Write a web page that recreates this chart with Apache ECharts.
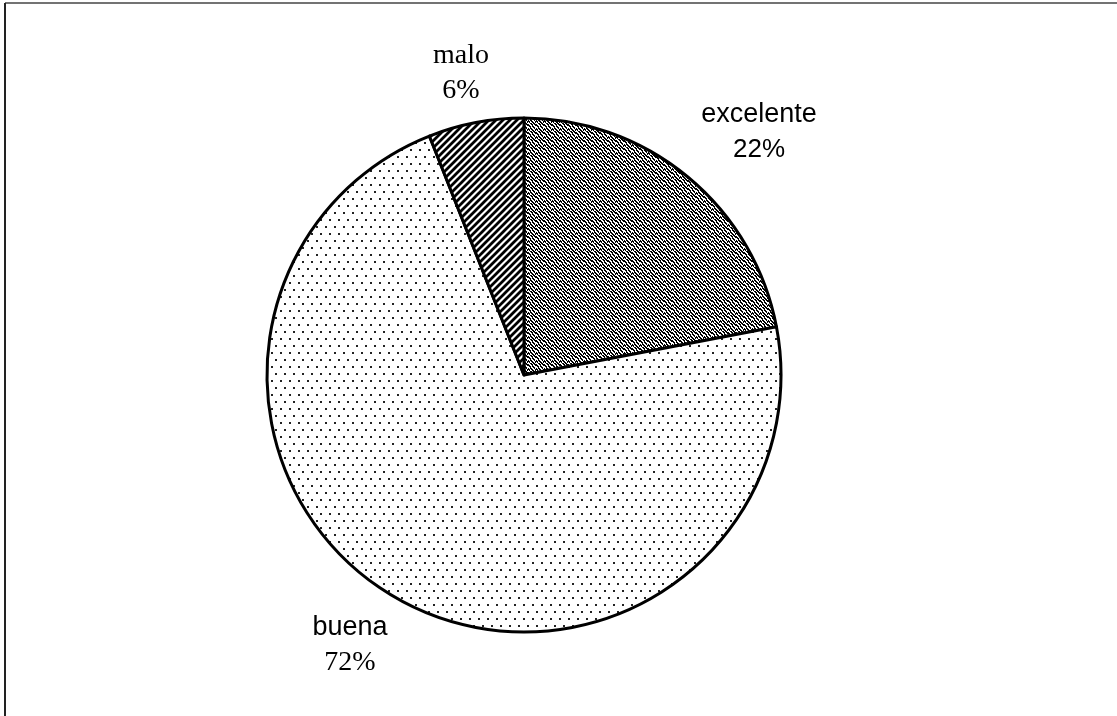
<!DOCTYPE html>
<html>
<head>
<meta charset="utf-8">
<script src="https://cdn.jsdelivr.net/npm/echarts@6/dist/echarts.min.js"></script>
<style>
html,body{margin:0;padding:0;background:#fff;}
#chart{width:1117px;height:716px;}
</style>
</head>
<body>
<div id="chart"></div>
<script>
// ---- data ----
const categories = ['excelente', 'buena', 'malo'];
const values = [22, 72, 6];
const percentLabels = ['22%', '72%', '6%'];

// ---- layout / style (kept apart from the data) ----
const labelPos = [[759, 132], [350, 645], [461, 73]];
const nameFont = ['Liberation Sans', 'Liberation Sans', 'Liberation Serif'];
const pctFont = ['Liberation Sans', 'Liberation Serif', 'Liberation Serif'];
const nameSize = [27, 27, 28];
const pctSize = [26, 28, 28];

function bitmapTile(rows) {
  const h = rows.length, w = rows[0].length;
  const c = document.createElement('canvas');
  c.width = w; c.height = h;
  const ctx = c.getContext('2d');
  ctx.fillStyle = '#fff'; ctx.fillRect(0, 0, w, h);
  ctx.fillStyle = '#000';
  for (let y = 0; y < h; y++) for (let x = 0; x < w; x++) if (rows[y][x] === '1') ctx.fillRect(x, y, 1, 1);
  return c;
}
function dotTile() {
  const c = document.createElement('canvas');
  c.width = 9; c.height = 14;
  const ctx = c.getContext('2d');
  ctx.fillStyle = '#fff'; ctx.fillRect(0, 0, 9, 14);
  ctx.fillStyle = '#222';
  ctx.fillRect(1, 2, 2, 2);
  ctx.fillRect(5, 9, 2, 2);
  return c;
}
function stripeTile() {
  const s = 7;
  const c = document.createElement('canvas');
  c.width = s; c.height = s;
  const ctx = c.getContext('2d');
  ctx.fillStyle = '#fff'; ctx.fillRect(0, 0, s, s);
  ctx.strokeStyle = '#000'; ctx.lineWidth = 2.8;
  ctx.beginPath();
  ctx.moveTo(-1, s + 1); ctx.lineTo(s + 1, -1);
  ctx.moveTo(-1, 1); ctx.lineTo(1, -1);
  ctx.moveTo(s - 1, s + 1); ctx.lineTo(s + 1, s - 1);
  ctx.stroke();
  return c;
}
const wormTile = bitmapTile([
  '10110010',
  '11011001',
  '01001101',
  '00110110',
  '10011011',
  '11001001',
  '01101100',
  '00100110'
]);
const fills = [
  { image: wormTile, repeat: 'repeat' },
  { image: dotTile(), repeat: 'repeat' },
  { image: stripeTile(), repeat: 'repeat' }
];

const seriesData = categories.map((name, i) => ({
  name: name,
  value: values[i],
  itemStyle: { color: fills[i] },
  label: {
    formatter: '{n|' + name + '}\n{p|' + percentLabels[i] + '}',
    rich: {
      n: { fontFamily: nameFont[i], fontSize: nameSize[i], color: '#000', lineHeight: 35, align: 'center' },
      p: { fontFamily: pctFont[i], fontSize: pctSize[i], color: '#000', lineHeight: 35, align: 'center' }
    }
  }
}));

const chart = echarts.init(document.getElementById('chart'), null, { renderer: 'canvas' });
chart.setOption({
  backgroundColor: '#fff',
  animation: false,
  graphic: [
    { type: 'line', shape: { x1: 5, y1: 3, x2: 1117, y2: 3 }, style: { stroke: '#444', lineWidth: 1.5 } },
    { type: 'line', shape: { x1: 5, y1: 3, x2: 5, y2: 716 }, style: { stroke: '#222', lineWidth: 2 } }
  ],
  series: [{
    type: 'pie',
    center: [524, 375],
    radius: 257,
    startAngle: 90,
    clockwise: true,
    avoidLabelOverlap: false,
    itemStyle: { borderColor: '#000', borderWidth: 3 },
    label: { show: true, position: 'outside' },
    labelLine: { show: false },
    labelLayout: function (params) {
      const p = labelPos[params.dataIndex];
      return { x: p[0], y: p[1], align: 'center', verticalAlign: 'middle' };
    },
    emphasis: { disabled: true },
    data: seriesData
  }]
});
</script>
</body>
</html>
